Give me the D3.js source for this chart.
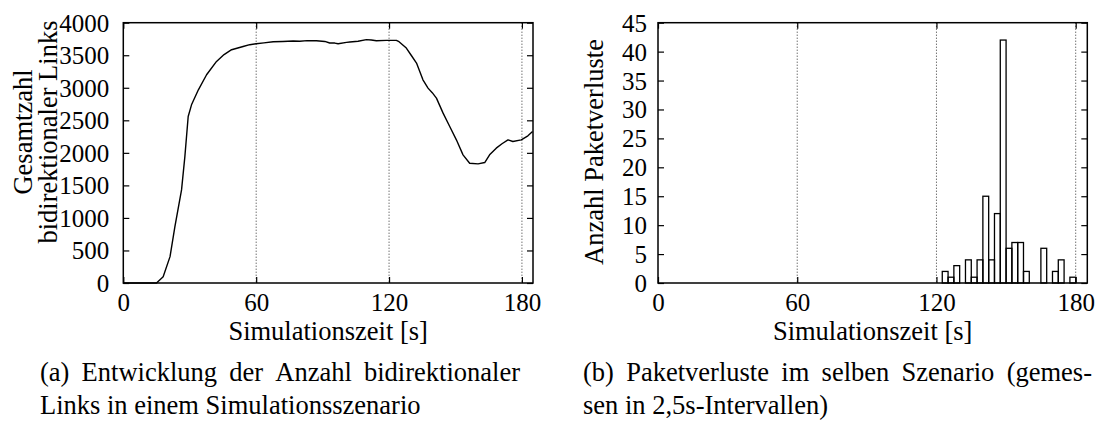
<!DOCTYPE html>
<html>
<head>
<meta charset="utf-8">
<script src="https://cdn.jsdelivr.net/npm/d3@7"></script>
<style>
  body { margin: 0; background: #fff; }
  svg text { font-family: "Liberation Serif", "Times New Roman", serif; fill: #000; }
</style>
</head>
<body>
<svg id="chart" width="1104" height="434"></svg>
<script>
// Total number of bidirectional links over simulation time
const linkTimes  = [0, 15, 18, 21.1, 23.3, 26.3, 27.8, 29.3, 30.8, 33.9, 37.6, 42.1, 45.5, 48.9, 54.1, 57.1, 60, 63.5, 67.7, 72, 76.7, 79.7, 83, 85.7, 87.2, 91, 93.2, 95.5, 97, 100.8, 102.3, 106, 109.8, 112, 114.3, 118.8, 123.3, 124.5, 127.8, 130, 132.4, 135.3, 137.6, 139.5, 141.4, 144.4, 147.4, 150.4, 153.4, 156.4, 160.2, 163.2, 165.4, 168.4, 171, 173.7, 175.9, 179.7, 182.7, 184.8];
const linkCounts = [0, 0, 97, 405, 866, 1430, 1943, 2558, 2738, 2969, 3200, 3405, 3510, 3585, 3635, 3662, 3677, 3690, 3708, 3712, 3718, 3715, 3725, 3723, 3723, 3712, 3688, 3687, 3677, 3697, 3703, 3715, 3740, 3735, 3723, 3728, 3728, 3708, 3610, 3500, 3380, 3123, 2995, 2925, 2841, 2610, 2405, 2200, 1969, 1841, 1831, 1851, 1969, 2072, 2140, 2200, 2174, 2200, 2262, 2328];

// Packet losses per 2.5 s interval (interval start times)
const lossBinStart = [122.5, 125, 127.5, 130, 132.5, 135, 137.5, 140, 142.5, 145, 147.5, 150, 152.5, 155, 157.5, 160, 162.5, 165, 167.5, 170, 172.5, 175, 177.5];
const lossCounts   = [2, 1, 3, 0, 4, 1, 4, 15, 4, 12, 42, 6, 7, 7, 2, 0, 0, 6, 0, 2, 4, 0, 1];
const binWidth = 2.5;

const xTickValues    = [0, 60, 120, 180];
const xGridValues    = [60, 120, 180];
const linkTickValues = [0, 500, 1000, 1500, 2000, 2500, 3000, 3500, 4000];
const lossTickValues = [0, 5, 10, 15, 20, 25, 30, 35, 40, 45];

const xLabel = "Simulationszeit [s]";
const linkLabel = ["Gesamtzahl", "bidirektionaler Links"];
const lossLabel = "Anzahl Paketverluste";
const captionA = ["(a) Entwicklung der Anzahl bidirektionaler", "Links in einem Simulationsszenario"];
const captionB = ["(b) Paketverluste im selben Szenario (gemes-", "sen in 2,5s-Intervallen)"];

const svg = d3.select("#chart");
const TICK_FS = 25;
const LABEL_FS = 26.5;
const CAPTION_FS = 26.5;
const TICK = 6;

function panel(g, x, y, yTicks, yPad) {
  const [x0, x1] = x.range();
  const [y0, y1] = y.range();
  // vertical dotted grid
  g.append("g").selectAll("line").data(xGridValues).join("line")
    .attr("x1", d => x(d)).attr("x2", d => x(d))
    .attr("y1", y1).attr("y2", y0)
    .attr("stroke", "#333").attr("stroke-width", 1).attr("stroke-dasharray", "1,2");

  const styleAxis = a => {
    a.attr("font-family", null);
    a.select(".domain").remove();
    a.selectAll(".tick line").attr("stroke", "#000").attr("stroke-width", 1.2);
    a.selectAll(".tick text").attr("font-size", TICK_FS);
  };
  g.append("g").attr("transform", `translate(0,${y0})`)
    .call(d3.axisBottom(x).tickValues(xTickValues).tickSize(-TICK).tickPadding(10).tickFormat(d3.format("d")))
    .call(styleAxis);
  g.append("g").attr("transform", `translate(0,${y1})`)
    .call(d3.axisTop(x).tickValues(xTickValues).tickSize(-TICK).tickFormat(""))
    .call(styleAxis);
  g.append("g").attr("transform", `translate(${x0},0)`)
    .call(d3.axisLeft(y).tickValues(yTicks).tickSize(-TICK).tickPadding(yPad).tickFormat(d3.format("d")))
    .call(styleAxis)
    .selectAll(".tick text").attr("dy", "0.34em");
  g.append("g").attr("transform", `translate(${x1},0)`)
    .call(d3.axisRight(y).tickValues(yTicks).tickSize(-TICK).tickFormat(""))
    .call(styleAxis);

  g.append("rect").attr("x", x0).attr("y", y1).attr("width", x1 - x0).attr("height", y0 - y1)
    .attr("fill", "none").attr("stroke", "#000").attr("stroke-width", 1.5);

  g.append("text").attr("x", (x0 + x1) / 2).attr("y", 340)
    .attr("text-anchor", "middle").attr("font-size", LABEL_FS).text(xLabel);
}

// ---- (a) link count ----
const xa = d3.scaleLinear().domain([0, 185]).range([123.3, 533]);
const ya = d3.scaleLinear().domain([0, 4000]).range([283, 22.7]);
const ga = svg.append("g");
panel(ga, xa, ya, linkTickValues, 14);
ga.append("path")
  .datum(d3.zip(linkTimes, linkCounts))
  .attr("fill", "none").attr("stroke", "#000").attr("stroke-width", 1.4)
  .attr("stroke-linejoin", "round")
  .attr("d", d3.line().x(d => xa(d[0])).y(d => ya(d[1])));
ga.selectAll("text.ylab").data(linkLabel).join("text").attr("class", "ylab")
  .attr("transform", (d, i) => `translate(${32 + i * 25},132) rotate(-90)`)
  .attr("text-anchor", "middle").attr("font-size", LABEL_FS).text(d => d);

// ---- (b) packet losses ----
const xb = d3.scaleLinear().domain([0, 185]).range([658, 1087.3]);
const yb = d3.scaleLinear().domain([0, 45]).range([283, 22.7]);
const gb = svg.append("g");
panel(gb, xb, yb, lossTickValues, 11);
gb.append("g").selectAll("rect").data(d3.zip(lossBinStart, lossCounts).filter(d => d[1] > 0)).join("rect")
  .attr("x", d => xb(d[0])).attr("width", d => xb(d[0] + binWidth) - xb(d[0]))
  .attr("y", d => yb(d[1])).attr("height", d => yb(0) - yb(d[1]))
  .attr("fill", "none").attr("stroke", "#000").attr("stroke-width", 1.3);
gb.append("text")
  .attr("transform", `translate(603,152) rotate(-90)`)
  .attr("text-anchor", "middle").attr("font-size", LABEL_FS).text(lossLabel);

// ---- captions (first line justified across the block) ----
function caption(lines, left, right, base) {
  const words = lines[0].split(" ");
  const tw = words.map(w => svg.append("text").attr("font-size", CAPTION_FS).attr("y", base).text(w));
  const widths = tw.map(t => t.node().getComputedTextLength());
  const gap = (right - left - d3.sum(widths)) / (words.length - 1);
  let cx = left;
  tw.forEach((t, i) => { t.attr("x", cx); cx += widths[i] + gap; });
  svg.append("text").attr("font-size", CAPTION_FS).attr("x", left).attr("y", base + 33).text(lines[1]);
}
caption(captionA, 40, 520, 381);
caption(captionB, 583, 1092, 381);
</script>
</body>
</html>
